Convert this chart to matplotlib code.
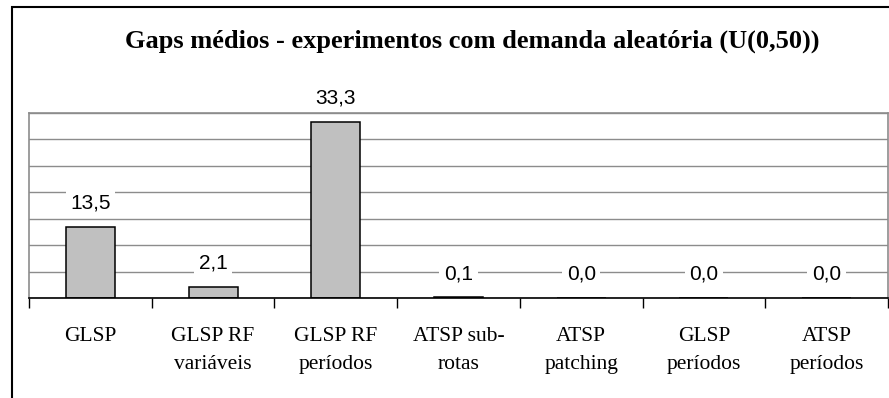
import matplotlib.pyplot as plt
from matplotlib.patches import Rectangle
from matplotlib.ticker import MultipleLocator

# Average gaps per method, random demand U(0,50)
categories = ["GLSP", "GLSP RF\nvariáveis", "GLSP RF\nperíodos", "ATSP sub-\nrotas",
              "ATSP\npatching", "GLSP\nperíodos", "ATSP\nperíodos"]
gaps = [13.5, 2.1, 33.3, 0.1, 0.0, 0.0, 0.0]

W, H = 889, 398
fig = plt.figure(figsize=(W / 100, H / 100), dpi=100)

# outer chart frame (runs off the right and bottom edges)
fig.patches.append(Rectangle((11.5 / W, -0.2), 2.0, (H - 7) / H + 0.2, transform=fig.transFigure,
                             fill=False, edgecolor="black", linewidth=1.5, zorder=0))

ax = fig.add_axes([29 / W, (H - 298) / H, (888 - 29) / W, (298 - 113) / H])

x = list(range(len(categories)))
ax.bar(x, gaps, width=0.4, color="#c0c0c0", edgecolor="black", linewidth=1.1, zorder=3)

for xi, v in zip(x, gaps):
    ax.annotate(f"{v:.1f}".replace(".", ","), (xi, v), xytext=(0, 17), textcoords="offset points",
                ha="center", va="center", fontsize=15, family="Liberation Sans", zorder=4,
                bbox=dict(boxstyle="square,pad=0.22", facecolor="white", edgecolor="none"))

ax.set_xlim(-0.5, len(categories) - 0.5)
ax.set_ylim(0, 35)
ax.yaxis.set_major_locator(MultipleLocator(5))
ax.grid(axis="y", color="#8c8c8c", linewidth=1.0, zorder=0)
ax.tick_params(axis="y", left=False, labelleft=False)

# category labels centred, tick marks on the boundaries
ax.set_xticks(x)
ax.set_xticklabels(categories, family="Liberation Serif", fontsize=15.5, linespacing=1.62)
ax.tick_params(axis="x", which="major", length=0, pad=21)
ax.set_xticks([i - 0.5 for i in range(len(categories) + 1)], minor=True)
ax.tick_params(axis="x", which="minor", length=7, width=1.0, color="black")
for lbl in ax.get_xticklabels():
    lbl.set_verticalalignment("top")

for side in ("top", "left", "right"):
    ax.spines[side].set_color("#8c8c8c")
    ax.spines[side].set_linewidth(1.2)
ax.spines["bottom"].set_color("black")
ax.spines["bottom"].set_linewidth(1.2)
ax.spines["bottom"].set_zorder(5)

fig.text(472 / W, (H - 48) / H, "Gaps médios - experimentos com demanda aleatória (U(0,50))",
         ha="center", va="baseline", family="Liberation Serif", fontweight="bold", fontsize=19)

fig.savefig("out.png", dpi=100)
